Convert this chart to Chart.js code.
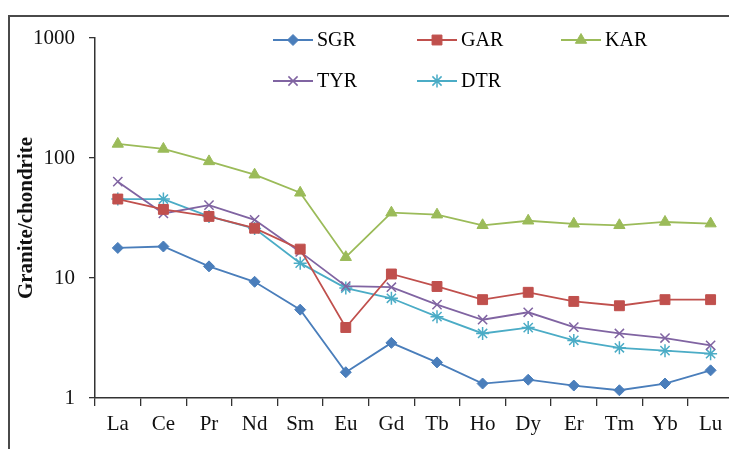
<!DOCTYPE html>
<html>
<head>
<meta charset="utf-8">
<script src="https://cdn.jsdelivr.net/npm/chart.js@4.4.1/dist/chart.umd.min.js"></script>
<style>
    html, body { margin: 0; padding: 0; background: #fff; overflow: hidden; }
    #wrap { position: relative; width: 729px; height: 449px; overflow: hidden; }
    #wrap canvas { position: absolute; left: 0; top: 0; }
</style>
</head>
<body>
<div id="wrap"><canvas id="reeChart" width="745" height="449"></canvas></div>
<script>
(function () {
    'use strict';

    var elements = ['La', 'Ce', 'Pr', 'Nd', 'Sm', 'Eu', 'Gd', 'Tb', 'Ho', 'Dy', 'Er', 'Tm', 'Yb', 'Lu'];
    var sgr = [17.8, 18.3, 12.5, 9.3, 5.45, 1.64, 2.88, 1.98, 1.32, 1.42, 1.27, 1.16, 1.32, 1.70];
    var gar = [45.5, 37.3, 32.6, 26.0, 17.4, 3.87, 10.8, 8.5, 6.6, 7.6, 6.38, 5.87, 6.6, 6.6];
    var kar = [131, 119, 93.7, 72.6, 51.3, 14.9, 35.0, 33.7, 27.5, 30.0, 28.3, 27.5, 29.3, 28.4];
    var tyr = [63.5, 34.5, 40.5, 30.5, 16.5, 8.55, 8.38, 6.0, 4.49, 5.18, 3.9, 3.45, 3.16, 2.75];
    var dtr = [45.5, 45.5, 32.6, 25.8, 13.3, 8.25, 6.78, 4.76, 3.45, 3.86, 3.02, 2.62, 2.48, 2.34];
    var yTicks = [1, 10, 100, 1000];

    var serif = '"Liberation Serif", "Times New Roman", "DejaVu Serif", serif';

    function series(label, data, color, style, radius, bw) {
        return {
            label: label,
            data: data,
            borderColor: color,
            backgroundColor: color,
            borderWidth: 1.8,
            pointStyle: style,
            pointRadius: radius,
            pointHoverRadius: radius,
            pointBackgroundColor: color,
            pointBorderColor: color,
            pointBorderWidth: bw,
            tension: 0
        };
    }

    // outer frame of the original figure (top and left edges only)
    var framePlugin = {
        id: 'frame',
        beforeDraw: function (chart) {
            var ctx = chart.ctx;
            ctx.save();
            ctx.strokeStyle = '#4a4a4a';
            ctx.lineWidth = 2;
            ctx.beginPath();
            ctx.moveTo(9, 449);
            ctx.lineTo(9, 16);
            ctx.lineTo(729, 16);
            ctx.stroke();
            ctx.restore();
        }
    };

    // legend laid out 3 per row inside the plot, like the Excel original
    var gridLegend = {
        id: 'gridLegend',
        afterDraw: function (chart) {
            var ctx = chart.ctx;
            ctx.save();
            ctx.font = '20px ' + serif;
            ctx.textBaseline = 'middle';
            ctx.textAlign = 'left';
            chart.data.datasets.forEach(function (ds, i) {
                var x0 = 273 + (i % 3) * 144;
                var y = 40 + Math.floor(i / 3) * 41;
                ctx.strokeStyle = ds.borderColor;
                ctx.lineWidth = ds.borderWidth;
                ctx.beginPath();
                ctx.moveTo(x0, y);
                ctx.lineTo(x0 + 40, y);
                ctx.stroke();
                ctx.fillStyle = ds.pointBackgroundColor;
                ctx.strokeStyle = ds.pointBorderColor;
                ctx.lineWidth = ds.pointBorderWidth;
                Chart.helpers.drawPoint(ctx, {
                    pointStyle: ds.pointStyle,
                    radius: ds.pointRadius,
                    borderWidth: ds.pointBorderWidth,
                    rotation: 0
                }, x0 + 20, y);
                ctx.fillStyle = '#000';
                ctx.fillText(ds.label, x0 + 44, y + 1);
            });
            ctx.restore();
        }
    };

    new Chart(document.getElementById('reeChart').getContext('2d'), {
        type: 'line',
        data: {
            labels: elements,
            datasets: [
                series('SGR', sgr, '#4a7ebb', 'rectRot', 5.5, 1),
                series('GAR', gar, '#c0504d', 'rect', 7, 1),
                series('KAR', kar, '#9bbb59', 'triangle', 6.5, 1),
                series('TYR', tyr, '#8064a2', 'crossRot', 6.5, 1.5),
                series('DTR', dtr, '#4bacc6', 'star', 6.5, 1.5)
            ]
        },
        options: {
            responsive: false,
            animation: false,
            devicePixelRatio: 1,
            layout: { padding: { left: 10, top: 38, right: 11.6, bottom: 0 } },
            plugins: {
                legend: { display: false },
                tooltip: { enabled: false }
            },
            scales: {
                x: {
                    type: 'category',
                    offset: true,
                    grid: {
                        display: true,
                        drawOnChartArea: false,
                        offset: true,
                        tickLength: 8,
                        color: '#333',
                        lineWidth: 1.3
                    },
                    border: { color: '#333', width: 1.5 },
                    ticks: {
                        color: '#111',
                        font: { family: serif, size: 21 },
                        padding: 6,
                        maxRotation: 0,
                        autoSkip: false
                    },
                    afterFit: function (s) { s.height = 51; }
                },
                y: {
                    type: 'logarithmic',
                    min: 1,
                    max: 1000,
                    afterBuildTicks: function (s) {
                        s.ticks = yTicks.map(function (v) { return { value: v }; });
                    },
                    grid: {
                        display: true,
                        drawOnChartArea: false,
                        tickLength: 6,
                        color: '#333',
                        lineWidth: 1.3
                    },
                    border: { color: '#333', width: 1.5 },
                    ticks: {
                        color: '#111',
                        font: { family: serif, size: 21 },
                        padding: 14,
                        callback: function (v) { return String(v); }
                    },
                    title: {
                        display: true,
                        text: 'Granite/chondrite',
                        color: '#111',
                        font: { family: serif, size: 21, weight: 'bold' },
                        padding: { top: 4, bottom: 0 }
                    },
                    afterFit: function (s) { s.width = 85; }
                }
            }
        },
        plugins: [framePlugin, gridLegend]
    });
}());
</script>
</body>
</html>
